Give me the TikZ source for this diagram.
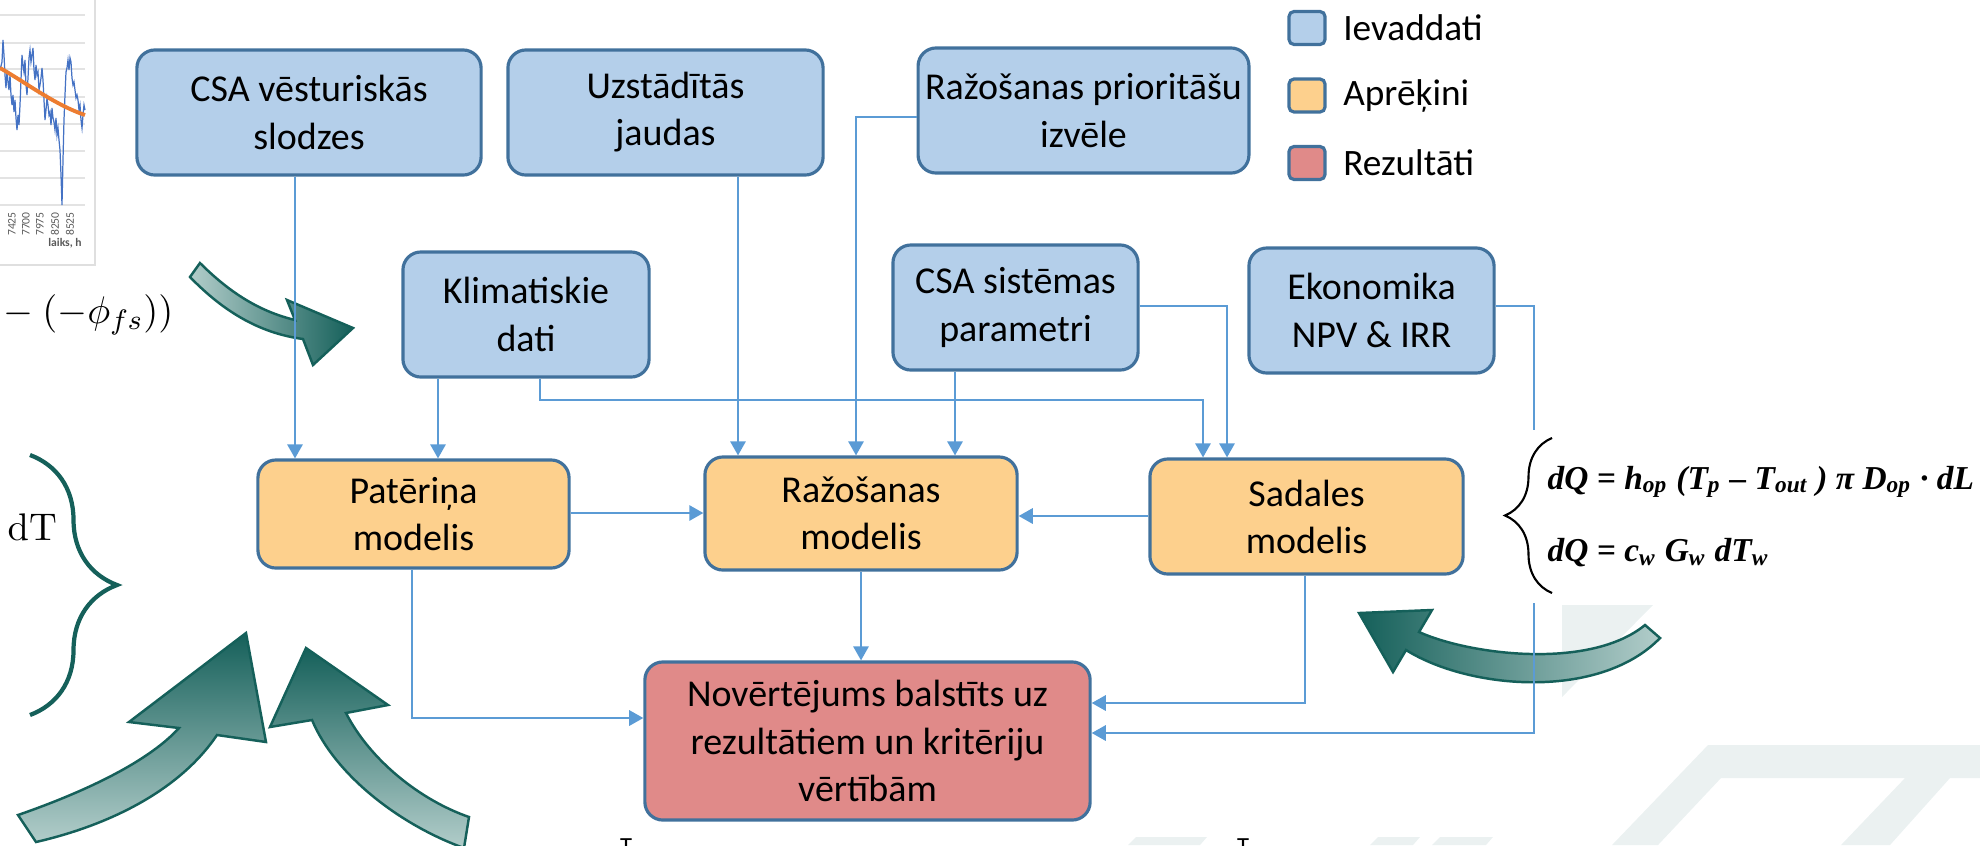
\documentclass[tikz,border=0pt]{standalone}
\usepackage[no-math]{fontspec}
\setmainfont{Carlito}
\newfontfamily\eqfont{Liberation Serif}
\usepackage{xcolor}
\usepackage{tikz}
\usetikzlibrary{arrows.meta}
\usetikzlibrary{positioning}
\usetikzlibrary{decorations.pathreplacing}
\definecolor{inblue}{HTML}{B4CFEA}
\definecolor{calcorange}{HTML}{FDD08D}
\definecolor{resred}{HTML}{E08A89}
\definecolor{boxline}{HTML}{41719C}
\definecolor{linkblue}{HTML}{5B9BD5}
\definecolor{arrdark}{HTML}{15605A}
\definecolor{arrlight}{HTML}{B2CDCA}
\definecolor{markgray}{HTML}{EBF1F1}
\definecolor{seriesblue}{HTML}{4472C4}
\definecolor{trendorange}{HTML}{ED7D31}
\tikzset{
    boxbase/.style = {rectangle, rounded corners=0.18cm, draw=boxline, line width=0.9pt, align=center, inner sep=2pt, font=\fontsize{10.8}{13.4}\selectfont},
    inbox/.style = {boxbase, fill=inblue},
    calcbox/.style = {boxbase, fill=calcorange},
    resbox/.style = {boxbase, fill=resred},
    legbox/.style = {rectangle, rounded corners=0.05cm, draw=boxline, line width=0.9pt, minimum width=0.36cm, minimum height=0.33cm, inner sep=0pt},
    legtext/.style = {inner sep=0pt, font=\fontsize{10.6}{13}\selectfont},
    link/.style = {draw=linkblue, line width=0.45pt, -{Triangle[length=4pt,width=4.4pt]}},
    bigarrow/.style = {draw=arrdark, line width=0.7pt},
}

\begin{document}
\begin{tikzpicture}[x=0.01cm, y=-0.01cm]
\useasboundingbox (0,0) rectangle (1980,845);
\tikzset{
    grid/.style = {draw=gray!22, line width=0.3pt},
    series/.style = {draw=seriesblue, line width=0.35pt},
    trend/.style = {draw=trendorange, line width=1.1pt},
    ticklab/.style = {inner sep=0pt, text=gray!70!black, font=\fontsize{3.3}{4}\selectfont},
    eqtext/.style = {inner sep=0pt, font=\eqfont\bfseries\itshape\fontsize{9.5}{11}\selectfont}
}
% watermark
\fill[markgray] (1708,745) -- (1980,745) -- (1980,778) -- (1950,778) -- (1890,845) -- (1841,845)
    -- (1905,778) -- (1721,778) -- (1658,845) -- (1612,845) -- cycle;
\fill[markgray] (1562,605) -- (1653,605) -- (1562,697) -- cycle;
\fill[markgray] (1136,837) -- (1207,837) -- (1200,845) -- (1128,845) -- cycle;
\fill[markgray] (1378,837) -- (1420,837) -- (1413,845) -- (1370,845) -- cycle;
\fill[markgray] (1440,837) -- (1493,837) -- (1486,845) -- (1432,845) -- cycle;
%
% chart
\foreach \gy in {15,43,69,97,124,151,178,205} \draw[grid] (0,\gy) -- (85,\gy);
\draw[draw=gray!25, line width=0.4pt] (0,265) -- (95,265) -- (95,0);
\draw[series] plot coordinates {(0,70) (2,62) (3,40) (4,55) (5,75) (6,88) (7,70) (8,82) (9,90) (10,75)
    (11,95) (12,105) (13,95) (14,112) (15,100) (16,118) (17,130) (18,115) (19,125) (20,105) (21,80)
    (22,55) (23,65) (24,72) (25,60) (26,85) (27,95) (28,78) (29,58) (30,50) (31,62) (32,55) (33,48)
    (34,70) (35,80) (36,65) (37,75) (38,72) (39,90) (40,85) (41,78) (42,68) (43,80) (44,100) (45,120)
    (46,110) (47,98) (48,105) (49,115) (50,112) (51,125) (52,108) (53,118) (54,122) (55,130) (56,118)
    (57,135) (58,128) (59,140) (60,150) (61,175) (62,205) (63,160) (64,120) (65,95) (66,72) (67,68)
    (68,60) (69,70) (70,58) (71,62) (72,78) (73,85) (74,82) (75,90) (76,98) (77,95) (78,100) (79,110)
    (80,105) (81,120) (82,128) (83,115) (84,105) (85,110)};
\draw[trend] (0,68) .. controls (25,82) and (55,105) .. (85,115);
\foreach \lx/\lab in {12/7425, 26/7700, 40/7975, 55/8250, 70/8525}
    \node[ticklab, rotate=90] at (\lx,224) (t\lab) {\lab};
\node[ticklab, font=\fontsize{3.3}{4}\selectfont\bfseries] at (65,243) (laiks) {laiks, h};
%
% formulas on the left
\node[anchor=east, inner sep=0pt] at (174,315) (phi) {\fontsize{11}{13}\selectfont ${}-(-\phi_{fs}))$};
\node[anchor=west, inner sep=0pt] at (7,527) (dT) {\fontsize{11}{13}\selectfont $\mathrm{dT}$};
\draw[decorate, decoration={brace, amplitude=0.87cm}, line width=1.2pt, draw=arrdark] (30,455) -- (30,715);
%
% curved arrows
\draw[bigarrow, left color=arrlight, right color=arrdark] (200,263) .. controls (232,295) and (262,312) .. (295,320)
    -- (287,300) -- (353,328) -- (313,365) -- (303,339) .. controls (258,333) and (222,310) .. (190,277) -- cycle;
\draw[bigarrow, bottom color=arrlight, top color=arrdark] (18,815) .. controls (90,790) and (150,760) .. (179,728)
    -- (129,722) -- (246,633) -- (266,742) -- (217,735) .. controls (180,790) and (110,825) .. (36,842) -- cycle;
\draw[bigarrow, bottom color=arrlight, top color=arrdark] (346,713) .. controls (370,760) and (420,800) .. (469,817)
    -- (464,848) .. controls (400,825) and (335,775) .. (312,720) -- (270,727) -- (306,648) -- (388,705) -- cycle;
\draw[bigarrow, left color=arrdark, right color=arrlight] (1419,632) .. controls (1470,655) and (1590,670) .. (1645,625)
    -- (1660,638) .. controls (1600,700) and (1470,690) .. (1406,650) -- (1393,672) -- (1359,613) -- (1432,610) -- cycle;
%
% boxes
\node[inbox, minimum width=3.44cm, minimum height=1.25cm] at (309,112.5) (hist) {CSA vēsturiskās\\slodzes};
\node[inbox, minimum width=3.15cm, minimum height=1.25cm] at (665.5,112.5) (uzst) {Uzstādītās\\jaudas};
\node[inbox, minimum width=3.15cm, minimum height=1.25cm] at (1083.5,110.5) (prio) {Ražošanas prioritāšu\\izvēle};
\node[inbox, minimum width=2.46cm, minimum height=1.25cm] at (526,314.5) (klim) {Klimatiskie\\dati};
\node[inbox, minimum width=2.45cm, minimum height=1.25cm] at (1015.5,307.5) (sist) {CSA sistēmas\\parametri};
\node[inbox, minimum width=2.45cm, minimum height=1.25cm] at (1371.5,310.5) (ekon) {Ekonomika\\NPV \& IRR};
\node[calcbox, minimum width=3.11cm, minimum height=1.08cm] at (413.5,514) (pat) {Patēriņa\\modelis};
\node[calcbox, minimum width=3.12cm, minimum height=1.13cm] at (861,513.5) (raz) {Ražošanas\\modelis};
\node[calcbox, minimum width=3.13cm, minimum height=1.15cm] at (1306.5,516.5) (sad) {Sadales\\modelis};
\node[resbox, minimum width=4.45cm, minimum height=1.58cm] at (867.5,741) (nov) {Novērtējums balstīts uz\\rezultātiem un kritēriju\\vērtībām};
%
% legend
\node[legbox, fill=inblue] at (1307,28) (lin) {};
\node[legbox, fill=calcorange] at (1307,95.5) (lcalc) {};
\node[legbox, fill=resred] at (1307,163) (lres) {};
\node[legtext, right=0.16cm of lin] (tin) {Ievaddati};
\node[legtext, right=0.16cm of lcalc] (tcalc) {Aprēķini};
\node[legtext, right=0.16cm of lres] (tres) {Rezultāti};
%
% connectors
\coordinate (xhist) at (295,0);
\coordinate (xklim) at (438,0);
\coordinate (xklimr) at (540,0);
\coordinate (xuzst) at (738,0);
\coordinate (xprio) at (856,0);
\coordinate (xsist) at (955,0);
\coordinate (xsada) at (1203,0);
\coordinate (xsadb) at (1227,0);
\coordinate (xekon) at (1534,0);
\coordinate (xpat) at (412,0);
\coordinate (xsad) at (1305,0);
\coordinate (yklim) at (0,400);
\coordinate (yprio) at (0,117);
\coordinate (yside) at (0,306);
\coordinate (ypat) at (0,513);
\coordinate (ysad) at (0,516);
\coordinate (ynova) at (0,703);
\coordinate (ynovl) at (0,718);
\coordinate (ynovb) at (0,733);
\draw[link] (hist.south -| xhist) -- (pat.north -| xhist);
\draw[link] (klim.south -| xklim) -- (pat.north -| xklim);
\draw[link] (klim.south -| xklimr) -- (xklimr |- yklim) -- (xsada |- yklim) -- (sad.north -| xsada);
\draw[link] (uzst.south -| xuzst) -- (raz.north -| xuzst);
\draw[link] (prio.west |- yprio) -- (xprio |- yprio) -- (raz.north -| xprio);
\draw[link] (sist.south -| xsist) -- (raz.north -| xsist);
\draw[link] (sist.east |- yside) -- (xsadb |- yside) -- (sad.north -| xsadb);
\draw[link] (ekon.east |- yside) -- (xekon |- yside) -- (xekon |- ynovb) -- (nov.east |- ynovb);
%
\draw[link] (pat.east |- ypat) -- (raz.west |- ypat);
\draw[link] (sad.west |- ysad) -- (raz.east |- ysad);
\draw[link] (raz.south) -- (raz.south |- nov.north);
\draw[link] (pat.south -| xpat) -- (xpat |- ynovl) -- (nov.west |- ynovl);
\draw[link] (sad.south -| xsad) -- (xsad |- ynova) -- (nov.east |- ynova);
%
% equations on the right
\fill[white] (1498,430) rectangle (1980,603);
\draw[decorate, decoration={brace, amplitude=0.47cm}, line width=0.6pt] (1552,593) -- (1552,438);
\node[eqtext, anchor=west] at (1547,482) (eqa) {dQ = h\textsubscript{op} (T\textsubscript{p} – T\textsubscript{out} ) π D\textsubscript{op} · dL};
\node[eqtext, anchor=west] at (1547,553) (eqb) {dQ = c\textsubscript{w} G\textsubscript{w} dT\textsubscript{w}};
%
% cut letters at the lower edge
\node[inner sep=0pt, font=\fontsize{7}{8}\selectfont, anchor=north] at (626,838) (cuta) {T};
\node[inner sep=0pt, font=\fontsize{7}{8}\selectfont, anchor=north] at (1243,838) (cutb) {T};
\end{tikzpicture}
\end{document}
